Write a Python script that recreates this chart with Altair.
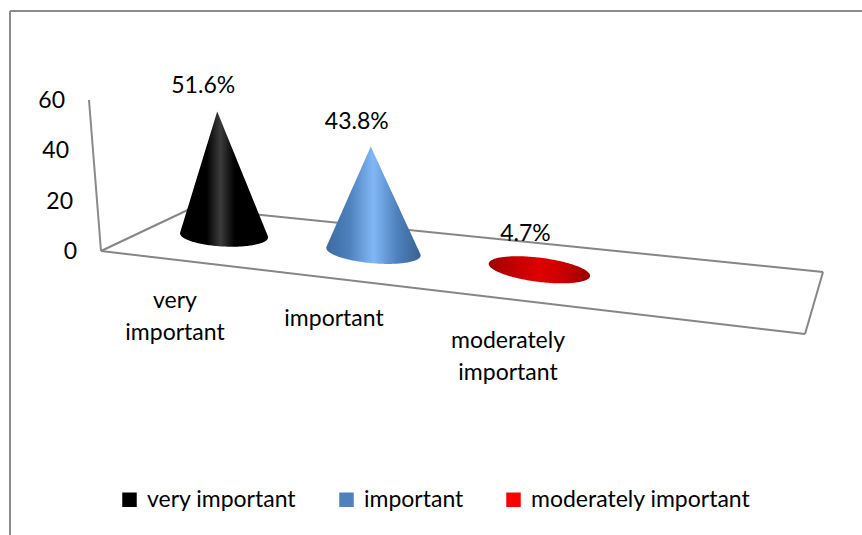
import altair as alt
import numpy as np
import pandas as pd

# Survey shares, one cone per answer
categories = ["very important", "important", "moderately important"]
shares = [51.6, 43.8, 4.7]
axis_ticks = [0, 20, 40, 60]
category_lines = [["very", "important"], ["important"], ["moderately", "important"]]

# Pseudo-3D scene set-up, in canvas units
W, H = 862, 535
FRONT_LEFT, FRONT_RIGHT = np.array([101.0, 251.0]), np.array([805.0, 334.0])
BACK_LEFT, BACK_RIGHT = np.array([192.0, 208.0]), np.array([823.0, 272.0])
WALL_TOP = np.array([89.0, 100.0])
AXIS_MAX = 60
PX_PER_UNIT = 2.4
FLOOR_POS = [0.11, 0.335, 0.585]
FLOOR_DEPTH = 0.55
LABEL_CENTRES = [(175, 317), (334, 319), (508, 357)]
LINE_GAP = 32
FONT = "Lato"
FONT_SIZE = 23
SOLID = ["#000000", "#4f81bd", "#ff0000"]
SHADES = [
    [(0, "#000000"), (0.3, "#000000"), (0.46, "#3c3c3c"), (0.62, "#000000"), (1, "#000000")],
    [(0, "#3d6a9f"), (0.25, "#4f81bd"), (0.5, "#80b8f7"), (0.75, "#4f81bd"), (1, "#39628f")],
    [(0, "#a00000"), (0.3, "#c80000"), (0.5, "#e00000"), (0.75, "#c80000"), (1, "#980000")],
]


def floor_point(t, d):
    front = FRONT_LEFT + t * (FRONT_RIGHT - FRONT_LEFT)
    back = BACK_LEFT + t * (BACK_RIGHT - BACK_LEFT)
    return front + d * (back - front)


def cone_apex(t, value):
    base = floor_point(t, FLOOR_DEPTH)
    height = value * PX_PER_UNIT
    lean = -0.08 + 0.0002 * (base[0] - FRONT_LEFT[0])
    return base + np.array([lean * height, -height])


def chain(points, sign):
    # One side of the convex hull, from left to right
    out = []
    for p in points:
        while len(out) >= 2:
            a, b = out[-2], out[-1]
            if sign * ((b[0] - a[0]) * (p[1] - a[1]) - (b[1] - a[1]) * (p[0] - a[0])) <= 0:
                out.pop()
            else:
                break
        out.append(p)
    return np.array(out)


def cone_outline(t, value):
    base = floor_point(t, FLOOR_DEPTH)
    a, b, tilt = 42.5 + 14 * t, 11 + 2 * t, 0.03 + 0.15 * t
    th = np.linspace(0, 2 * np.pi, 181)[:-1]
    ex = base[0] + a * np.cos(th)
    ey = base[1] + a * np.cos(th) * tilt + b * np.sin(th)
    apex = cone_apex(t, value)
    pts = sorted(list(zip(ex, ey)) + [tuple(apex)])
    upper, lower = chain(pts, 1), chain(pts, -1)
    xs = np.unique(np.concatenate([upper[:, 0], lower[:, 0]]))
    return pd.DataFrame({
        "x": xs,
        "y": np.interp(xs, upper[:, 0], upper[:, 1]),
        "y2": np.interp(xs, lower[:, 0], lower[:, 1]),
    })


X = alt.X("x:Q", scale=alt.Scale(domain=[0, W], nice=False, zero=False), axis=None)
Y = alt.Y("y:Q", scale=alt.Scale(domain=[H, 0], nice=False, zero=False), axis=None)

# Outer frame, axis wall and floor
segments = [
    (10, 11, W, 11, "#8c8c8c"),
    (10, 11, 10, H, "#8c8c8c"),
    (*WALL_TOP, *FRONT_LEFT, "#8a8a8a"),
    (*FRONT_LEFT, *FRONT_RIGHT, "#868686"),
    (*FRONT_RIGHT, *BACK_RIGHT, "#868686"),
    (*BACK_RIGHT, *BACK_LEFT, "#868686"),
    (*BACK_LEFT, *FRONT_LEFT, "#868686"),
]
frame = (
    alt.Chart(pd.DataFrame(segments, columns=["x", "y", "x2", "y2", "c"]))
    .mark_rule(strokeWidth=2)
    .encode(x=X, y=Y, x2="x2:Q", y2="y2:Q", color=alt.Color("c:N", scale=None))
)

# Cones: the height of each outline comes from its share
cones = []
for t, value, stops in zip(FLOOR_POS, shares, SHADES):
    fill = alt.LinearGradient(
        gradient="linear",
        x1=0, x2=1, y1=0, y2=0,
        stops=[alt.GradientStop(offset=o, color=c) for o, c in stops],
    )
    cones.append(
        alt.Chart(cone_outline(t, value))
        .mark_area(color=fill, interpolate="linear")
        .encode(x=X, y=Y, y2="y2:Q")
    )

# Percentages above the apexes
apexes = [cone_apex(t, v) for t, v in zip(FLOOR_POS, shares)]
value_df = pd.DataFrame({
    "x": [p[0] - 14 for p in apexes],
    "y": [p[1] - 25 for p in apexes],
    "label": [f"{v}%" for v in shares],
})
value_text = (
    alt.Chart(value_df)
    .mark_text(font=FONT, fontSize=FONT_SIZE, color="#000000")
    .encode(x=X, y=Y, text="label:N")
)

# Value axis labels follow the leaning wall
tick_df = pd.DataFrame({"tick": axis_ticks})
tick_df["x"] = [FRONT_LEFT[0] + (WALL_TOP[0] - FRONT_LEFT[0]) * v / AXIS_MAX - 24 for v in axis_ticks]
tick_df["y"] = [FRONT_LEFT[1] + (WALL_TOP[1] - FRONT_LEFT[1]) * v / AXIS_MAX + 1 for v in axis_ticks]
tick_text = (
    alt.Chart(tick_df)
    .mark_text(font=FONT, fontSize=FONT_SIZE, align="right", color="#000000")
    .encode(x=X, y=Y, text="tick:N")
)

# Category labels, wrapped by hand
rows = []
for lines, (cx, cy) in zip(category_lines, LABEL_CENTRES):
    for i, line in enumerate(lines):
        rows.append({"x": cx, "y": cy + (i - (len(lines) - 1) / 2) * LINE_GAP, "label": line})
category_text = (
    alt.Chart(pd.DataFrame(rows))
    .mark_text(font=FONT, fontSize=FONT_SIZE, color="#000000")
    .encode(x=X, y=Y, text="label:N")
)

# Invisible points that exist to carry the legend
legend_layer = (
    alt.Chart(pd.DataFrame({"name": categories, "x": [0, 0, 0], "y": [0, 0, 0]}))
    .mark_square(opacity=0)
    .encode(
        x=X,
        y=Y,
        color=alt.Color(
            "name:N",
            scale=alt.Scale(domain=categories, range=SOLID),
            legend=alt.Legend(
                title=None,
                orient="none",
                legendX=118,
                legendY=488,
                direction="horizontal",
                columns=3,
                symbolType="square",
                symbolSize=210,
                symbolOpacity=1,
                symbolStrokeWidth=0,
                labelFont=FONT,
                labelFontSize=FONT_SIZE,
                labelColor="#000000",
                labelOffset=6,
                columnPadding=38,
                labelLimit=400,
            ),
        ),
    )
)

chart = (
    alt.layer(frame, *cones, value_text, tick_text, category_text, legend_layer)
    .properties(width=W, height=H, padding=0, autosize=alt.AutoSizeParams(type="none"), background="#ffffff")
    .configure_view(stroke=None)
)

chart.save("out.html", embed_options={"renderer": "svg", "actions": False})
